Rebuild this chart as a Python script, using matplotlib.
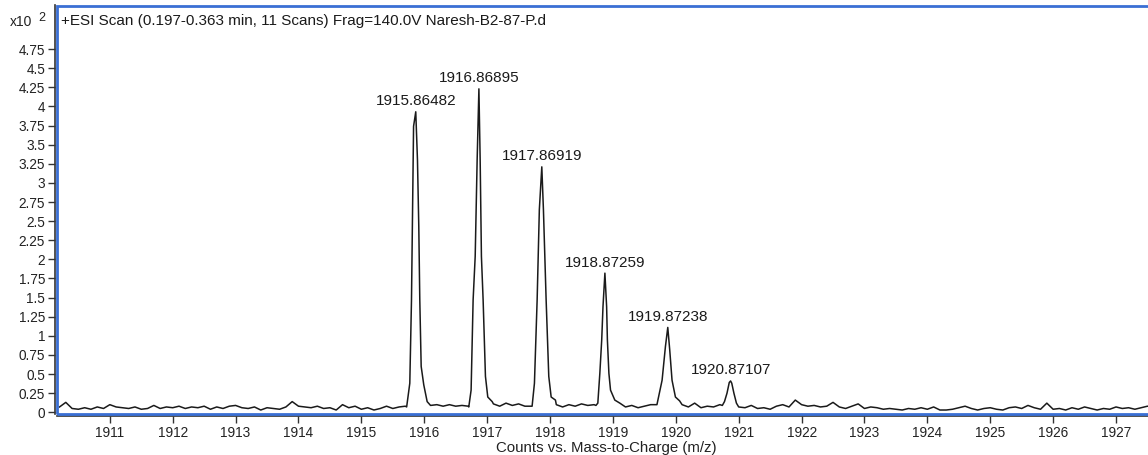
import numpy as np
import matplotlib
matplotlib.use("Agg")
import matplotlib.pyplot as plt
from matplotlib.patches import Rectangle
from matplotlib.ticker import FuncFormatter

plt.rcParams['font.family'] = ['Liberation Sans', 'DejaVu Sans']

# Labelled isotope peaks (m/z) and their apex intensities (x10^2 counts)
peak_mz = [1915.86482, 1916.86895, 1917.86919, 1918.87259, 1919.87238, 1920.87107]
peak_height = [3.93, 4.23, 3.21, 1.82, 1.11, 0.41]

# Profile points across each peak (m/z, intensity)
peak1_mz = [1915.72, 1915.77, 1915.797, 1915.823, 1915.83, 1915.86482, 1915.892, 1915.913, 1915.929, 1915.951, 1915.992, 1916.046]
peak1_int = [0.07, 0.38, 1.47, 3.30, 3.74, 3.93, 3.30, 2.43, 1.47, 0.60, 0.36, 0.14]
peak2_mz = [1916.708, 1916.745, 1916.777, 1916.81, 1916.841, 1916.86895, 1916.889, 1916.909, 1916.936, 1916.973, 1917.01, 1917.08]
peak2_int = [0.07, 0.29, 1.47, 2.04, 3.30, 4.23, 3.30, 2.04, 1.47, 0.47, 0.20, 0.14]
peak3_mz = [1917.715, 1917.752, 1917.795, 1917.83, 1917.86919, 1917.895, 1917.938, 1917.98, 1918.018, 1918.086]
peak3_int = [0.08, 0.38, 1.47, 2.65, 3.21, 2.65, 1.47, 0.47, 0.20, 0.16]
peak4_mz = [1918.73, 1918.76, 1918.792, 1918.822, 1918.842, 1918.87259, 1918.90, 1918.912, 1918.936, 1918.962, 1919.03, 1919.11]
peak4_int = [0.09, 0.12, 0.51, 0.95, 1.38, 1.82, 1.38, 0.95, 0.51, 0.29, 0.16, 0.12]
peak5_mz = [1919.70, 1919.782, 1919.835, 1919.87238, 1919.903, 1919.94, 1919.994, 1920.06]
peak5_int = [0.10, 0.42, 0.86, 1.11, 0.82, 0.42, 0.20, 0.15]
peak6_mz = [1920.74, 1920.774, 1920.814, 1920.85, 1920.87107, 1920.89, 1920.924, 1920.964]
peak6_int = [0.09, 0.14, 0.25, 0.39, 0.41, 0.38, 0.25, 0.12]

# Baseline trace sampled every 0.1 m/z from 1910.2 to 1927.6
baseline_start = 1910.2
baseline_int = [
    0.07, 0.13, 0.05, 0.04, 0.06, 0.04, 0.07, 0.05,                  # 1910.2-1910.9
    0.10, 0.07, 0.06, 0.05, 0.07, 0.04, 0.05, 0.09, 0.05, 0.07,      # 1911
    0.06, 0.08, 0.05, 0.07, 0.06, 0.08, 0.04, 0.07, 0.05, 0.08,      # 1912
    0.09, 0.06, 0.05, 0.07, 0.03, 0.06, 0.05, 0.04, 0.07, 0.14,      # 1913
    0.08, 0.07, 0.06, 0.08, 0.05, 0.06, 0.03, 0.10, 0.06, 0.08,      # 1914
    0.04, 0.06, 0.03, 0.05, 0.08, 0.05, 0.07, 0.08, 0.08, 0.08,      # 1915
    0.09, 0.09, 0.10, 0.08, 0.10, 0.08, 0.09, 0.08, 0.08, 0.08,      # 1916
    0.10, 0.11, 0.08, 0.12, 0.09, 0.11, 0.08, 0.08, 0.08, 0.08,      # 1917
    0.10, 0.10, 0.07, 0.10, 0.08, 0.11, 0.09, 0.10, 0.08, 0.08,      # 1918
    0.08, 0.08, 0.07, 0.09, 0.06, 0.08, 0.10, 0.10, 0.10, 0.10,      # 1919
    0.10, 0.10, 0.07, 0.12, 0.06, 0.08, 0.07, 0.10, 0.10, 0.10,      # 1920
    0.07, 0.06, 0.09, 0.05, 0.06, 0.04, 0.08, 0.10, 0.07, 0.16,      # 1921
    0.10, 0.08, 0.09, 0.07, 0.08, 0.13, 0.07, 0.05, 0.08, 0.11,      # 1922
    0.05, 0.07, 0.06, 0.04, 0.05, 0.04, 0.03, 0.05, 0.04, 0.06,      # 1923
    0.04, 0.07, 0.03, 0.03, 0.04, 0.06, 0.08, 0.05, 0.03, 0.05,      # 1924
    0.06, 0.04, 0.03, 0.06, 0.07, 0.05, 0.09, 0.06, 0.04, 0.12,      # 1925
    0.04, 0.05, 0.03, 0.06, 0.04, 0.07, 0.05, 0.03, 0.05, 0.04,      # 1926
    0.07, 0.05, 0.06, 0.04, 0.06, 0.08, 0.07,                        # 1927.0-1927.6
]

title_text = "+ESI Scan (0.197-0.363 min, 11 Scans) Frag=140.0V Naresh-B2-87-P.d"
x_label = "Counts vs. Mass-to-Charge (m/z)"
x_ticks = list(range(1911, 1928))
y_ticks = [0.25 * i for i in range(20)]

# Assemble the profile: baseline samples outside the peak windows plus peak points
peaks = [(peak1_mz, peak1_int), (peak2_mz, peak2_int), (peak3_mz, peak3_int),
         (peak4_mz, peak4_int), (peak5_mz, peak5_int), (peak6_mz, peak6_int)]
base_mz = baseline_start + 0.1 * np.arange(len(baseline_int))
base_int = np.array(baseline_int)
keep = np.ones(len(base_mz), dtype=bool)
for pm, _ in peaks:
    keep &= ~((base_mz >= pm[0] - 1e-6) & (base_mz <= pm[-1] + 1e-6))
all_mz = list(base_mz[keep])
all_int = list(base_int[keep])
for pm, pi in peaks:
    all_mz += pm
    all_int += pi
order = np.argsort(all_mz)
trace_mz = np.array(all_mz)[order]
trace_int = np.array(all_int)[order]

W, H = 1148, 455
fig = plt.figure(figsize=(W / 100, H / 100), dpi=100)
fig.patch.set_facecolor('white')
ax_h = 414.3 - 5.5
ax_w = 1155 - 57
ax = fig.add_axes([57 / W, 40.7 / H, ax_w / W, ax_h / H])

ax.plot(trace_mz, trace_int, color='#1a1a1a', lw=1.1)

ax.set_xlim(1910.16, 1927.62)
ax.set_ylim(-0.026, 5.32)

ax.set_xticks(x_ticks)
ax.set_yticks(y_ticks)
ax.yaxis.set_major_formatter(FuncFormatter(lambda v, p: f"{v:g}"))
ax.tick_params(axis='both', direction='out', length=5, width=1, color='#333333',
               labelcolor='#222222', labelsize=9.8, pad=2)

for s in ['top', 'right']:
    ax.spines[s].set_visible(False)
for s in ['left', 'bottom']:
    ax.spines[s].set_color('#333333')
    ax.spines[s].set_linewidth(1.2)
    ax.spines[s].set_position(('outward', 1.5))

# Blue plot frame
ax.add_patch(Rectangle((0, 0), 1, 1, transform=ax.transAxes, fill=False,
                       edgecolor='#3a6fd4', lw=2.0, clip_on=False, zorder=5))

for mz, h in zip(peak_mz, peak_height):
    ax.annotate(f"{mz:.5f}", xy=(mz, h), xytext=(0, 2.5), textcoords='offset points',
                ha='center', va='bottom', fontsize=11, color='#1a1a1a')

ax.text(4 / ax_w, 1 - 16 / ax_h, title_text, transform=ax.transAxes,
        ha='left', va='center', fontsize=11, color='#1a1a1a')

ax.set_xlabel(x_label, fontsize=10.8, color='#222222', labelpad=1)

fig.text(10 / W, 1 - 22.5 / H, "x10", ha='left', va='center', fontsize=10, color='#222222')
fig.text(38 / W, 1 - 18 / H, "2", ha='left', va='center', fontsize=9, color='#222222')

fig.savefig("out.png", dpi=100)
